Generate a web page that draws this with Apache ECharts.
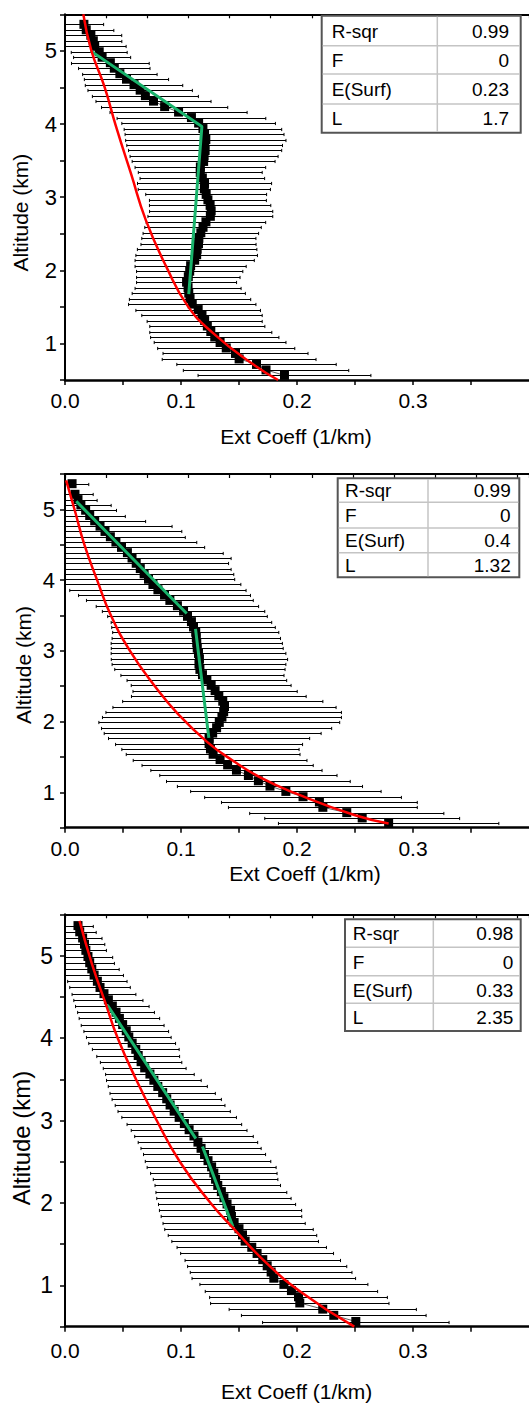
<!DOCTYPE html>
<html><head><meta charset="utf-8">
<script src="https://cdn.jsdelivr.net/npm/echarts@6/dist/echarts.min.js"></script>
<style>html,body{margin:0;padding:0;background:#fff}#c{width:529px;height:1403px}</style>
</head><body><div id="c"></div>
<script>
// ---------------- DATA ----------------
const altitude = [0.563,0.638,0.713,0.788,0.863,0.938,1.013,1.088,1.163,1.238,1.313,1.388,1.463,1.538,1.613,1.688,1.763,1.838,1.913,1.988,2.063,2.138,2.213,2.288,2.363,2.438,2.513,2.588,2.663,2.738,2.813,2.888,2.963,3.038,3.113,3.188,3.263,3.338,3.413,3.488,3.563,3.638,3.713,3.788,3.863,3.938,4.013,4.088,4.163,4.238,4.313,4.388,4.463,4.538,4.613,4.688,4.763,4.838,4.913,4.988,5.063,5.138,5.213,5.288,5.363];

// Panel 1 extinction coefficient and error (half width)
const p1Ext = [0.1892,0.1733,0.1651,0.1501,0.1470,0.1390,0.1337,0.1291,0.1257,0.1227,0.1204,0.1181,0.1148,0.1097,0.1078,0.1067,0.1061,0.1048,0.1063,0.1075,0.1083,0.1118,0.1135,0.1139,0.1151,0.1154,0.1171,0.1190,0.1215,0.1253,0.1260,0.1251,0.1232,0.1217,0.1201,0.1203,0.1184,0.1166,0.1167,0.1195,0.1199,0.1208,0.1204,0.1214,0.1203,0.1189,0.1152,0.1090,0.0979,0.0859,0.0763,0.0693,0.0648,0.0595,0.0530,0.0473,0.0425,0.0391,0.0320,0.0295,0.0256,0.0244,0.0223,0.0183,0.0163];
const p1Err = [0.0745,0.0713,0.0687,0.0663,0.0625,0.0591,0.0568,0.0553,0.0526,0.0496,0.0496,0.0519,0.0537,0.0549,0.0523,0.0488,0.0457,0.0431,0.0446,0.0458,0.0479,0.0514,0.0524,0.0515,0.0496,0.0492,0.0498,0.0502,0.0515,0.0538,0.0531,0.0523,0.0504,0.0521,0.0570,0.0578,0.0537,0.0534,0.0563,0.0616,0.0638,0.0660,0.0671,0.0691,0.0685,0.0679,0.0662,0.0641,0.0591,0.0544,0.0496,0.0457,0.0450,0.0420,0.0363,0.0321,0.0308,0.0335,0.0246,0.0241,0.0271,0.0246,0.0266,0.0238,0.0170];

// Panel 2
const p2Ext = [0.2790,0.2562,0.2429,0.2223,0.2193,0.2052,0.1904,0.1767,0.1667,0.1581,0.1478,0.1402,0.1337,0.1277,0.1254,0.1242,0.1242,0.1273,0.1307,0.1330,0.1353,0.1368,0.1375,0.1360,0.1326,0.1294,0.1260,0.1223,0.1185,0.1163,0.1155,0.1159,0.1151,0.1140,0.1136,0.1132,0.1127,0.1108,0.1090,0.1056,0.1022,0.0969,0.0904,0.0858,0.0801,0.0758,0.0720,0.0682,0.0649,0.0614,0.0578,0.0538,0.0487,0.0439,0.0391,0.0345,0.0302,0.0256,0.0213,0.0178,0.0137,0.0112,0.0086,null,0.0061];
const p2Err = [0.0950,0.0840,0.0837,0.0814,0.0844,0.0848,0.0821,0.0798,0.0792,0.0764,0.0738,0.0738,0.0749,0.0749,0.0764,0.0806,0.0867,0.0935,0.0992,0.1038,0.1030,0.1015,0.0962,0.0863,0.0753,0.0708,0.0689,0.0688,0.0703,0.0734,0.0749,0.0760,0.0753,0.0741,0.0738,0.0726,0.0716,0.0705,0.0692,0.0688,0.0700,0.0700,0.0719,0.0741,0.0760,0.0758,0.0743,0.0773,0.0783,0.0796,0.0854,0.0826,0.0717,0.0697,0.0646,0.0662,0.0621,0.0439,0.0307,0.0266,0.0261,0.0165,0.0157,null,0.0144];

// Panel 3
const p3Ext = [0.2507,0.2317,0.2222,0.2024,0.2013,0.1952,0.1887,0.1800,0.1777,0.1743,0.1705,0.1656,0.1610,0.1553,0.1530,0.1500,0.1458,0.1435,0.1427,0.1397,0.1370,0.1348,0.1317,0.1298,0.1283,0.1264,0.1233,0.1203,0.1173,0.1146,0.1112,0.1070,0.1029,0.0984,0.0941,0.0906,0.0877,0.0842,0.0800,0.0766,0.0732,0.0687,0.0656,0.0631,0.0610,0.0579,0.0550,0.0528,0.0497,0.0469,0.0440,0.0408,0.0374,0.0336,0.0302,0.0279,0.0251,0.0231,0.0213,0.0198,0.0180,0.0168,0.0152,0.0127,0.0112];
const p3Err = [0.0804,0.0796,0.0807,0.0769,0.0766,0.0743,0.0724,0.0705,0.0697,0.0686,0.0670,0.0659,0.0644,0.0632,0.0640,0.0640,0.0613,0.0606,0.0613,0.0591,0.0579,0.0564,0.0541,0.0537,0.0545,0.0556,0.0541,0.0526,0.0518,0.0515,0.0511,0.0499,0.0494,0.0494,0.0484,0.0473,0.0471,0.0454,0.0427,0.0408,0.0382,0.0357,0.0351,0.0357,0.0374,0.0374,0.0365,0.0365,0.0357,0.0347,0.0331,0.0317,0.0298,0.0275,0.0261,0.0256,0.0253,0.0236,0.0213,0.0213,0.0177,0.0175,0.0167,0.0142,0.0132];

// Green piecewise-linear fits (null = gap between segments)
const green1Ext = [0.0221,0.1180,0.1067];
const green1Alt = [5.0,3.965,1.675];
const green2Ext = [0.0097,0.1049,null,0.1125,0.1240];
const green2Alt = [5.115,3.528,null,3.31,1.77];
const green3Ext = [0.0365,0.1128,null,0.1185,0.1448];
const green3Alt = [4.40,2.78,null,2.685,1.71];

// Red exponential-type fit curves
const red1Alt = [0.5,0.728,1.138,1.5,2.05,2.69,3.32,3.96,4.51,5.01,5.5];
const red1Ext = [0.1837,0.1609,0.1279,0.1063,0.0873,0.0696,0.0569,0.0441,0.0340,0.0226,0.0158];
const red2Alt = [0.56,0.68,0.985,1.196,1.45,1.71,2.11,2.5,3.0,3.5,4.0,4.5,4.97,5.41];
const red2Ext = [0.279,0.2494,0.1988,0.170,0.1445,0.1227,0.0973,0.0775,0.056,0.0396,0.0277,0.0167,0.0087,0.001];
const red3Alt = [0.5,0.925,1.29,1.695,2.0,2.5,3.07,3.5,4.0,4.41,4.9,5.42];
const red3Ext = [0.2494,0.203,0.1724,0.145,0.1255,0.099,0.0765,0.0612,0.0454,0.0352,0.0232,0.0125];

// Table contents
const tableLabels = ['R-sqr','F','E(Surf)','L'];
const table1Values = ['0.99','0','0.23','1.7'];
const table2Values = ['0.99','0','0.4','1.32'];
const table3Values = ['0.98','0','0.33','2.35'];

// Tick labels
const xTickLabels = ['0.0','0.1','0.2','0.3'];
const yTickLabels = ['1','2','3','4','5'];

// ---------------- LAYOUT ----------------
const FONT = 'Arial, "Liberation Sans", sans-serif';
const GRID_LEFT = 65;
const GRID_WIDTH = 526.7;
const panels = [
  {top:14.3, height:365.7, ext:p1Ext, err:p1Err, gE:green1Ext, gA:green1Alt, rE:red1Ext, rA:red1Alt,
   yFont:22, yMargin:8, xMargin:10,
   xTitle:[296,436.7], yTitle:[20.8,212.6], yTitleFont:21,
   table:{x0:321.7,y0:15.7,x1:520.7,y1:132.7,rows:[45.7,74,104],col:437.3,tl:331.7,tr:509,vals:table1Values}},
  {top:474, height:353.7, ext:p2Ext, err:p2Err, gE:green2Ext, gA:green2Alt, rE:red2Ext, rA:red2Alt,
   yFont:22, yMargin:10, xMargin:10,
   xTitle:[305,873.3], yTitle:[23.3,665], yTitleFont:21,
   table:{x0:337.7,y0:478.3,x1:519.3,y1:577.3,rows:[502.3,528,552.7],col:428,tl:345,tr:510.7,vals:table2Values}},
  {top:914.3, height:412.4, ext:p3Ext, err:p3Err, gE:green3Ext, gA:green3Alt, rE:red3Ext, rA:red3Alt,
   yFont:23, yMargin:12, xMargin:13,
   xTitle:[296.7,1391.7], yTitle:[21.7,1138], yTitleFont:24,
   table:{x0:345,y0:919.3,x1:520.7,y1:1031,rows:[947.3,975.7,1003.3],col:433.3,tl:352.7,tr:513.3,vals:table3Values}}
];

function xFmt(v){
  const k = Math.round(v/0.1);
  if (Math.abs(v - k*0.1) < 1e-6 && xTickLabels[k] !== undefined) return xTickLabels[k];
  return '';
}
function yFmt(v){
  const k = Math.round(v);
  if (Math.abs(v - k) < 1e-6 && yTickLabels[k-1] !== undefined) return yTickLabels[k-1];
  return '';
}

function errRender(params, api){
  const y = api.value(0), lo = api.value(1), hi = api.value(2);
  const cs = params.coordSys;
  const pL = api.coord([lo, y]);
  const pR = api.coord([hi, y]);
  const yy = Math.round(pR[1]) + 0.5;
  const left = Math.max(pL[0], cs.x);
  const st = {stroke:'#000', lineWidth:1};
  const ch = [{type:'line', shape:{x1:left, y1:yy, x2:pR[0], y2:yy}, style:st}];
  if (pL[0] > cs.x + 1) ch.push({type:'line', shape:{x1:pL[0], y1:yy-1.6, x2:pL[0], y2:yy+1.6}, style:st});
  ch.push({type:'line', shape:{x1:pR[0], y1:yy-1.6, x2:pR[0], y2:yy+1.6}, style:st});
  return {type:'group', children:ch};
}

const grid=[], xAxis=[], yAxis=[], series=[], graphic=[];
panels.forEach((p, i) => {
  grid.push({left:GRID_LEFT, top:p.top, width:GRID_WIDTH, height:p.height, containLabel:false});
  xAxis.push({type:'value', gridIndex:i, position:'bottom', min:0, max:0.4, interval:0.05,
    axisLine:{show:true, onZero:false, lineStyle:{color:'#000', width:2.5}},
    axisTick:{show:true, inside:false, length:5, lineStyle:{color:'#000', width:1.5}},
    axisLabel:{show:true, formatter:xFmt, margin:p.xMargin, color:'#000', fontSize:21, fontFamily:FONT, showMaxLabel:false},
    splitLine:{show:false}});
  xAxis.push({type:'value', gridIndex:i, position:'top', min:0, max:0.4, interval:0.03546,
    axisLine:{show:true, onZero:false, lineStyle:{color:'#000', width:2}},
    axisTick:{show:true, inside:true, length:4, lineStyle:{color:'#000', width:1.2}},
    axisLabel:{show:false}, splitLine:{show:false}});
  yAxis.push({type:'value', gridIndex:i, min:0.5, max:5.5, interval:0.5,
    axisLine:{show:true, onZero:false, lineStyle:{color:'#000', width:2}},
    axisTick:{show:true, inside:false, length:5, lineStyle:{color:'#000', width:1.5}},
    axisLabel:{show:true, formatter:yFmt, margin:p.yMargin, color:'#000', fontSize:p.yFont, fontFamily:FONT},
    splitLine:{show:false}});

  const errData=[], ptData=[];
  altitude.forEach((a, k) => {
    const v = p.ext[k], e = p.err[k];
    if (v === null || v === undefined) { ptData.push(['-','-']); return; }
    errData.push([a, v - e, v + e]);
    ptData.push([v, a]);
  });
  series.push({type:'custom', xAxisIndex:2*i, yAxisIndex:i, renderItem:errRender,
    encode:{x:[1,2], y:0}, data:errData, z:2, silent:true, clip:true});
  series.push({type:'line', xAxisIndex:2*i, yAxisIndex:i, data:ptData, symbol:'rect', symbolSize:9,
    showSymbol:true, showAllSymbol:true, connectNulls:false,
    itemStyle:{color:'#000'}, lineStyle:{color:'#333', width:0.8}, z:3, silent:true});
  const gData = p.gE.map((v, k) => v === null ? ['-','-'] : [v, p.gA[k]]);
  series.push({type:'line', xAxisIndex:2*i, yAxisIndex:i, data:gData, symbol:'none', connectNulls:false,
    lineStyle:{color:'#19b36b', width:3}, z:4, silent:true});
  const rData = p.rE.map((v, k) => [v, p.rA[k]]);
  series.push({type:'line', xAxisIndex:2*i, yAxisIndex:i, data:rData, symbol:'none', smooth:0.5,
    lineStyle:{color:'#ff0000', width:2.5}, z:5, silent:true, clip:true});

  // axis titles
  graphic.push({type:'text', x:p.xTitle[0], y:p.xTitle[1], silent:true,
    style:{text:'Ext Coeff (1/km)', fontSize:21, fontFamily:FONT, fill:'#000',
      textAlign:'center', textVerticalAlign:'middle', align:'center', verticalAlign:'middle'}});
  graphic.push({type:'text', x:p.yTitle[0], y:p.yTitle[1], rotation:Math.PI/2, silent:true,
    style:{text:'Altitude (km)', fontSize:p.yTitleFont, fontFamily:FONT, fill:'#000',
      textAlign:'center', textVerticalAlign:'middle', align:'center', verticalAlign:'middle'}});

  // table
  const t = p.table;
  graphic.push({type:'rect', shape:{x:t.x0, y:t.y0, width:t.x1-t.x0, height:t.y1-t.y0},
    style:{fill:'#fff', stroke:'#555', lineWidth:2}, z:10, silent:true});
  t.rows.forEach(ry => graphic.push({type:'line', shape:{x1:t.x0+1, y1:ry, x2:t.x1-1, y2:ry},
    style:{stroke:'#c4c4c4', lineWidth:1.5}, z:11, silent:true}));
  graphic.push({type:'line', shape:{x1:t.col, y1:t.y0+1, x2:t.col, y2:t.y1-1},
    style:{stroke:'#c4c4c4', lineWidth:1.5}, z:11, silent:true});
  const edges = [t.y0].concat(t.rows).concat([t.y1]);
  tableLabels.forEach((lab, r) => {
    const cy = (edges[r] + edges[r+1]) / 2 + 0.5;
    graphic.push({type:'text', x:t.tl, y:cy, z:12, silent:true,
      style:{text:lab, fontSize:19, fontFamily:FONT, fill:'#000', textAlign:'left', textVerticalAlign:'middle', align:'left', verticalAlign:'middle'}});
    graphic.push({type:'text', x:t.tr, y:cy, z:12, silent:true,
      style:{text:t.vals[r], fontSize:19, fontFamily:FONT, fill:'#000', textAlign:'right', textVerticalAlign:'middle', align:'right', verticalAlign:'middle'}});
  });
});

const chart = echarts.init(document.getElementById('c'), null, {renderer:'svg'});
chart.setOption({animation:false, backgroundColor:'#fff', grid, xAxis, yAxis, series, graphic});
</script>
</body></html>
